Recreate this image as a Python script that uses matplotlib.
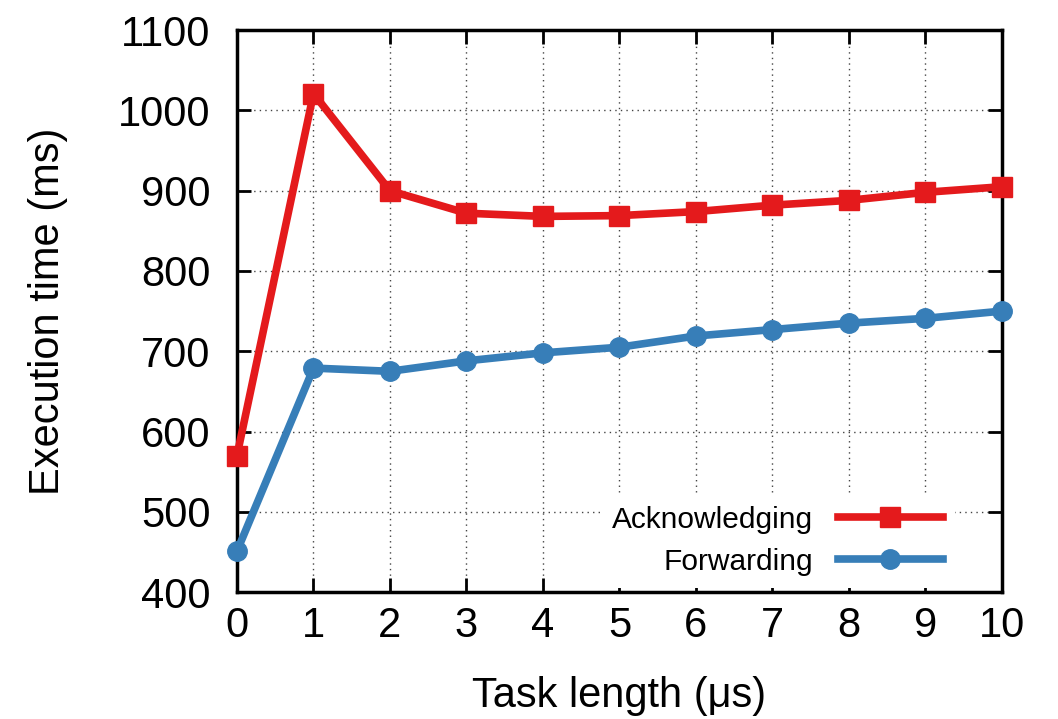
import matplotlib.pyplot as plt

plt.rcParams['font.family'] = ['Liberation Sans', 'DejaVu Sans']

task_length = [0, 1, 2, 3, 4, 5, 6, 7, 8, 9, 10]
acknowledging = [570, 1021, 900, 872, 868, 869, 874, 882, 888, 898, 905]
forwarding = [451, 679, 675, 688, 698, 705, 719, 727, 735, 741, 750]

fig = plt.figure(figsize=(10.58, 7.19), dpi=100)
ax = fig.add_axes([0.224, 0.1766, 0.723, 0.7814])

ax.plot(task_length, acknowledging, color="#e41a1c", lw=5.5, marker="s",
        markersize=14, label="Acknowledging", clip_on=False, zorder=3)
ax.plot(task_length, forwarding, color="#377eb8", lw=5.5, marker="o",
        markersize=14, label="Forwarding", clip_on=False, zorder=3)

ax.set_xlim(0, 10)
ax.set_ylim(400, 1100)
ax.set_xticks(range(0, 11))
ax.set_yticks(range(400, 1101, 100))
ax.grid(True, linestyle=(0, (1, 3)), color="#444444", lw=1.0)
ax.tick_params(direction="in", length=10, width=2, labelsize=30,
               top=True, right=True)
ax.tick_params(axis="x", pad=10)
ax.tick_params(axis="y", pad=19)
for s in ax.spines.values():
    s.set_linewidth(2.5)

ax.set_xlabel("Task length (μs)", fontsize=30, labelpad=22)
ax.set_ylabel("Execution time (ms)", fontsize=30, labelpad=36)

leg = ax.legend(loc="lower right", bbox_to_anchor=(0.944, 0.0),
                markerfirst=False, fontsize=21.5,
                handlelength=3.5, frameon=True, fancybox=False,
                edgecolor="none", facecolor="white", framealpha=1.0,
                borderaxespad=0.15, labelspacing=0.47, handletextpad=0.85)

fig.savefig("out.png", dpi=100)
